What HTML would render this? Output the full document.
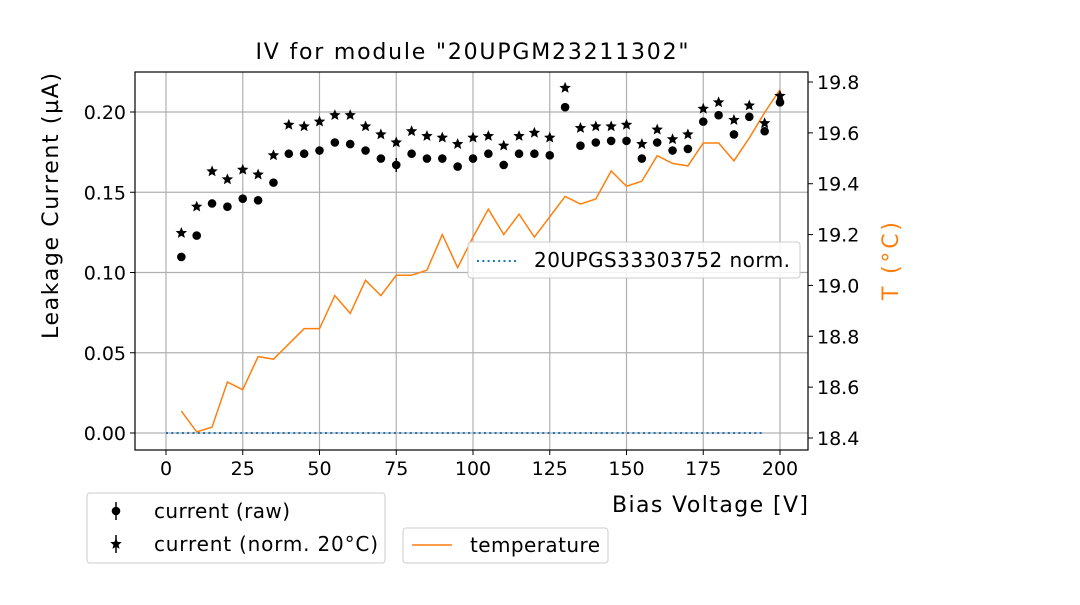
<!DOCTYPE html>
<html><head><meta charset="utf-8"><style>
body{margin:0;background:#fff;}
svg{font-family:"DejaVu Sans","Liberation Sans",sans-serif;}
</style></head><body>
<svg id="c" width="1080" height="600" xmlns="http://www.w3.org/2000/svg"></svg>
<script>
const voltages=[5,10,15,20,25,30,35,40,45,50,55,60,65,70,75,80,85,90,95,100,105,110,115,120,125,130,135,140,145,150,155,160,165,170,175,180,185,190,195,200];
const currentRaw=[0.1097,0.123,0.143,0.141,0.146,0.145,0.156,0.174,0.174,0.176,0.181,0.180,0.176,0.171,0.167,0.174,0.171,0.171,0.166,0.171,0.174,0.167,0.174,0.174,0.173,0.203,0.179,0.181,0.182,0.182,0.171,0.181,0.176,0.177,0.194,0.198,0.186,0.197,0.188,0.206];
const currentNorm=[0.1246,0.141,0.163,0.158,0.164,0.161,0.173,0.192,0.191,0.194,0.198,0.198,0.191,0.186,0.181,0.188,0.185,0.184,0.180,0.184,0.185,0.179,0.185,0.187,0.184,0.215,0.190,0.191,0.191,0.192,0.180,0.189,0.183,0.186,0.202,0.206,0.195,0.204,0.193,0.210];
const temperature=[18.506,18.424,18.443,18.62,18.59,18.72,18.71,18.77,18.83,18.83,18.96,18.89,19.02,18.96,19.04,19.04,19.06,19.20,19.07,19.19,19.30,19.20,19.28,19.19,19.27,19.35,19.32,19.34,19.45,19.39,19.41,19.51,19.48,19.47,19.56,19.56,19.49,19.58,19.68,19.77];
const refVoltages=[0,195];
const refCurrent=[0,0];
const xTicks=[0,25,50,75,100,125,150,175,200];
const yTicks=[0,0.05,0.10,0.15,0.20];
const tTicks=[18.4,18.6,18.8,19.0,19.2,19.4,19.6,19.8];

const L=135,R=808,T=72,B=450;
const x=v=>166+(v-0)*(780-166)/200;
const y=c=>433-c*(433-112)/0.2;
const yt=t=>438-(t-18.4)*(438-82)/1.4;
const NS="http://www.w3.org/2000/svg";
const svg=document.getElementById('c');
function el(tag,attrs,parent){const e=document.createElementNS(NS,tag);for(const k in attrs)e.setAttribute(k,attrs[k]);(parent||svg).appendChild(e);return e;}
function txt(s,attrs,parent){const e=el('text',attrs,parent);e.textContent=s;return e;}

const grid=el('g',{stroke:'#b0b0b0','stroke-width':1.2});


xTicks.forEach(v=>el('line',{x1:x(v),x2:x(v),y1:T,y2:B},grid));
yTicks.forEach(v=>el('line',{x1:L,x2:R,y1:y(v),y2:y(v)},grid));

const xa=el('g',{'font-size':19,fill:'#000'});


xTicks.forEach(v=>{el('line',{x1:x(v),x2:x(v),y1:B,y2:B+5,stroke:'#000'},xa);txt(String(v),{x:x(v),y:B+25,'text-anchor':'middle'},xa);});
const ya=el('g',{'font-size':19,fill:'#000'});


yTicks.forEach(v=>{el('line',{x1:L-5,x2:L,y1:y(v),y2:y(v),stroke:'#000'},ya);txt(v.toFixed(2),{x:L-9,y:y(v)+7,'text-anchor':'end'},ya);});
const ta=el('g',{'font-size':19,fill:'#000'});


tTicks.forEach(v=>{el('line',{x1:R,x2:R+5,y1:yt(v),y2:yt(v),stroke:'#000'},ta);txt(v.toFixed(1),{x:R+9,y:yt(v)+7},ta);});

const ref=el('polyline',{points:refVoltages.map((v,i)=>x(v)+','+y(refCurrent[i])).join(' '),fill:'none',stroke:'#1f77b4','stroke-width':2,'stroke-dasharray':'2,3.3'});



const tl=el('polyline',{points:voltages.map((v,i)=>x(v)+','+yt(temperature[i])).join(' '),fill:'none',stroke:'#ff7f0e','stroke-width':1.5});



function star(cx,cy,r){let p=[];for(let i=0;i<10;i++){const a=-Math.PI/2+i*Math.PI/5;const rr=i%2?r*0.45:r;p.push((cx+rr*Math.cos(a)).toFixed(2)+','+(cy+rr*Math.sin(a)).toFixed(2));}return p.join(' ');}
const rawG=el('g',{fill:'#000'});


voltages.forEach((v,i)=>{const c=el('circle',{cx:x(v),cy:y(currentRaw[i]),r:4.3},rawG);});
const normG=el('g',{fill:'#000'});


voltages.forEach((v,i)=>{const s=el('polygon',{points:star(x(v),y(currentNorm[i]),6)},normG);});
el('line',{x1:x(75),x2:x(75),y1:y(currentRaw[14])-7,y2:y(currentRaw[14])+7,stroke:'#000','stroke-width':1.5});

const fr=el('rect',{x:L,y:T,width:R-L,height:B-T,fill:'none',stroke:'#000','stroke-width':1.2});



const tt=txt('IV for module "20UPGM23211302"',{x:472,y:59,'text-anchor':'middle','font-size':22,textLength:433});

const xt=txt('Bias Voltage [V]',{x:808,y:512,'text-anchor':'end','font-size':22,textLength:196});

const yl=txt('Leakage Current (µA)',{x:0,y:0,'text-anchor':'middle','font-size':22,textLength:266,transform:'translate(58,206) rotate(-90)'});

const yr=txt('T (°C)',{x:0,y:0,'text-anchor':'middle','font-size':22,textLength:78,fill:'#ff7f0e',transform:'translate(898,261) rotate(-90)'});


const lg1=el('g',{});

el('rect',{x:468,y:242,width:332,height:36,rx:3,fill:'#fff','fill-opacity':0.85,stroke:'#ccc'},lg1);
el('line',{x1:477,x2:518,y1:261,y2:261,stroke:'#1f77b4','stroke-width':2,'stroke-dasharray':'2,3.3'},lg1);
txt('20UPGS33303752 norm.',{x:534,y:267,'font-size':20,textLength:256},lg1);

const lg2=el('g',{});

el('rect',{x:87,y:493,width:298,height:70,rx:3,fill:'#fff',stroke:'#ccc'},lg2);
el('line',{x1:116,x2:116,y1:502,y2:520,stroke:'#000','stroke-width':1.5},lg2);
el('circle',{cx:116,cy:511,r:4.3},lg2);
txt('current (raw)',{x:154,y:518,'font-size':20,textLength:136},lg2);
el('line',{x1:116,x2:116,y1:535,y2:553,stroke:'#000','stroke-width':1.5},lg2);
el('polygon',{points:star(116,544,6)},lg2);
txt('current (norm. 20°C)',{x:154,y:551,'font-size':20,textLength:224},lg2);

const lg3=el('g',{});

el('rect',{x:403,y:528,width:205,height:35,rx:3,fill:'#fff',stroke:'#ccc'},lg3);
el('line',{x1:412,x2:452,y1:545,y2:545,stroke:'#ff7f0e','stroke-width':1.5},lg3);
txt('temperature',{x:470,y:552,'font-size':20,textLength:130},lg3);
</script>
</body></html>
